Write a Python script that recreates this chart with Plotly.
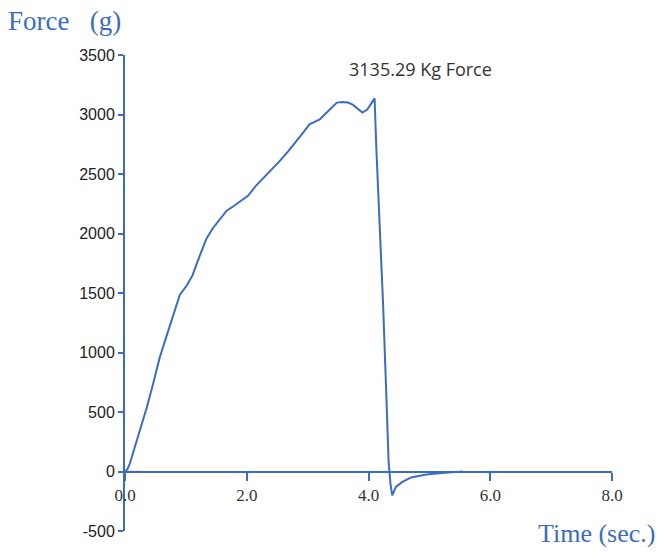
import plotly.graph_objects as go

# Force–time trace of a single pull test (force in grams, time in seconds)
time_s = [0.00, 0.04, 0.08, 0.16, 0.25, 0.36, 0.46, 0.57, 0.69, 0.79,
          0.90, 1.02, 1.11, 1.23, 1.34, 1.44, 1.56, 1.67, 1.77, 1.89,
          2.02, 2.15, 2.26, 2.40, 2.54, 2.68, 2.82, 2.93, 3.03, 3.12,
          3.20, 3.28, 3.36, 3.43, 3.48, 3.57, 3.66, 3.74, 3.82, 3.90,
          3.98, 4.05, 4.10, 4.13, 4.20, 4.24, 4.29, 4.33, 4.36, 4.39,
          4.45, 4.55, 4.70, 4.95, 5.25, 5.55]
force_g = [0, 20, 67, 200, 350, 542, 733, 958, 1150, 1317,
           1483, 1567, 1650, 1817, 1958, 2042, 2125, 2192, 2225, 2267,
           2317, 2400, 2458, 2530, 2608, 2690, 2775, 2850, 2917, 2940,
           2958, 3000, 3042, 3080, 3100, 3105, 3100, 3083, 3050, 3017,
           3042, 3100, 3135.29, 2700, 1925, 1400, 683, 83, -100, -200,
           -130, -90, -50, -25, -10, 0]

# Baseline marker near the origin
base_t = [-0.05, 0.27]
base_f = [0, 0]

peak_label = "3135.29 Kg Force"
x_ticks = [0, 2, 4, 6, 8]
y_ticks = [-500, 0, 500, 1000, 1500, 2000, 2500, 3000, 3500]

blue = "#3b6cc0"

fig = go.Figure()
fig.add_trace(go.Scatter(x=base_t, y=base_f, mode="lines",
                         line=dict(color="#e07c9c", width=1.5),
                         hoverinfo="skip", cliponaxis=False))
fig.add_trace(go.Scatter(x=time_s, y=force_g, mode="lines",
                         line=dict(color=blue, width=2)))

fig.update_layout(
    width=660, height=552,
    margin=dict(l=125, r=48, t=55, b=17),
    paper_bgcolor="white", plot_bgcolor="white",
    showlegend=False,
    xaxis=dict(range=[0, 8], tickvals=x_ticks, ticktext=[f"{v:.1f}" for v in x_ticks],
               anchor="free", position=0.125,
               showline=True, linecolor=blue, linewidth=2,
               ticks="outside", ticklen=8, tickwidth=2, tickcolor=blue,
               showgrid=False, zeroline=False,
               tickfont=dict(family="Liberation Serif", size=17, color="#333")),
    yaxis=dict(range=[-500, 3500], tickvals=y_ticks,
               ticktext=[str(v) for v in y_ticks],
               showline=True, linecolor=blue, linewidth=2,
               ticks="outside", ticklen=5, tickwidth=2, tickcolor=blue,
               showgrid=False, zeroline=False,
               tickfont=dict(family="Liberation Sans", size=16, color="#222")),
    annotations=[
        dict(text="Force&nbsp;&nbsp;&nbsp;(g)", xref="paper", yref="paper",
             x=-0.244, y=1.035, xanchor="left", yanchor="bottom", showarrow=False,
             font=dict(family="Liberation Serif", size=27, color=blue)),
        dict(text="Time (sec.)", xref="paper", yref="paper",
             x=1.092, y=-0.04, xanchor="right", yanchor="bottom", showarrow=False,
             font=dict(family="Liberation Serif", size=26, color=blue)),
        dict(text=peak_label, xref="x", yref="y",
             x=4.86, y=3385, showarrow=False,
             font=dict(family="Open Sans", size=18, color="#333")),
    ],
)

fig.write_html("out.html")
